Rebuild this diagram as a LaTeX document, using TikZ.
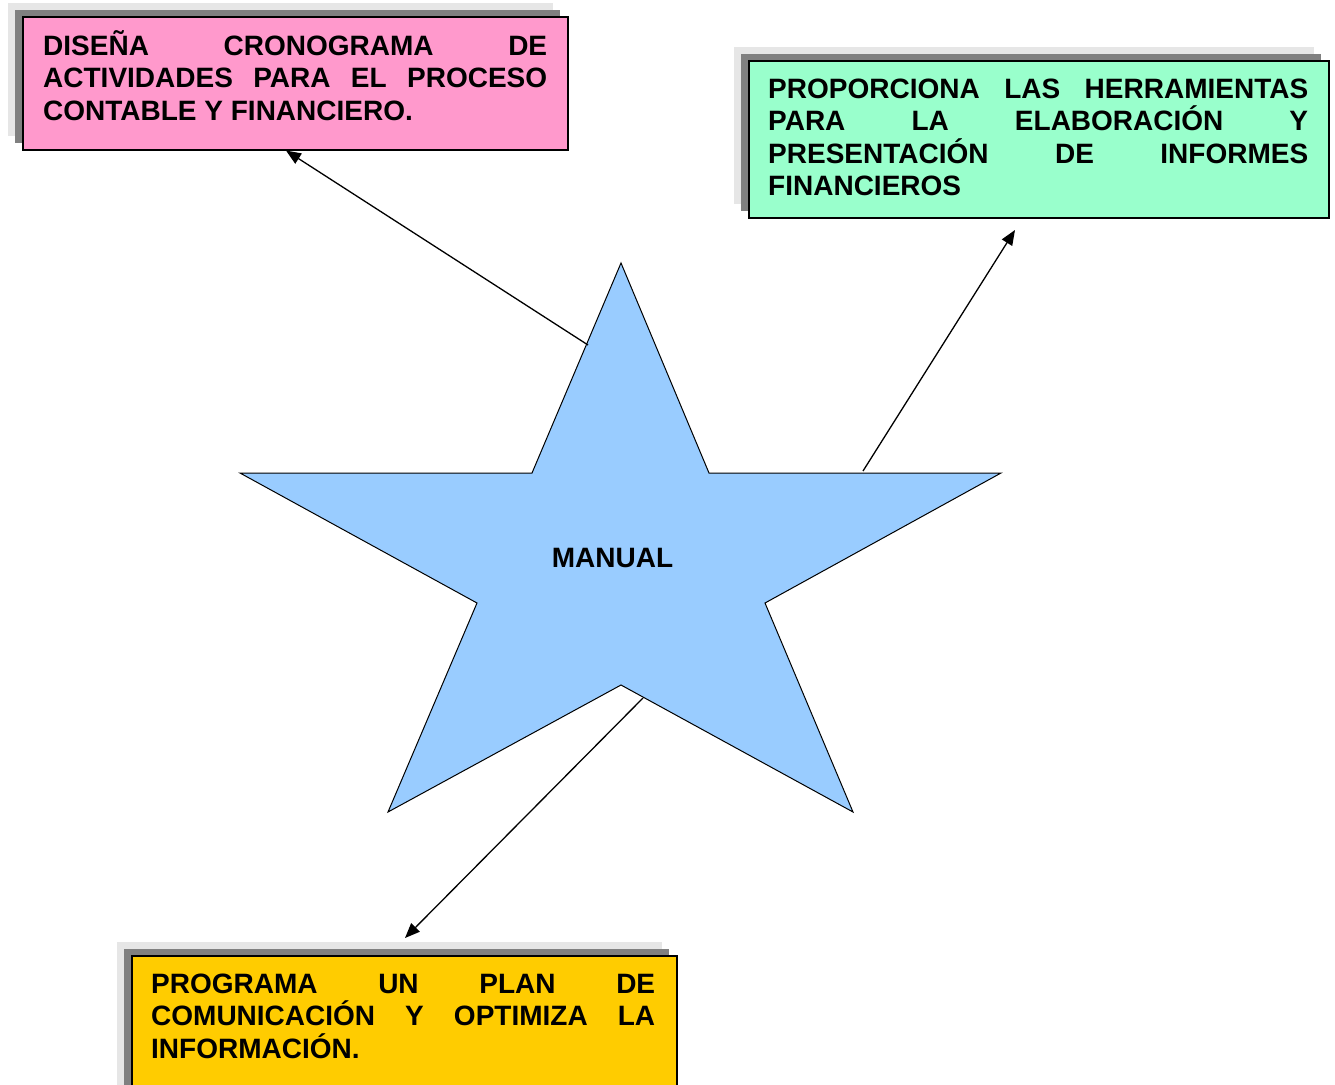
\documentclass[tikz,border=0pt]{standalone}
\usepackage{fontspec}
\setmainfont{Liberation Sans}
\usetikzlibrary{arrows.meta,shadows,calc}

\definecolor{pinkfill}{HTML}{FF99CC}
\definecolor{greenfill}{HTML}{99FFCC}
\definecolor{yellowfill}{HTML}{FFCC00}
\definecolor{starfill}{HTML}{99CCFF}
\definecolor{shadowdark}{HTML}{808080}
\definecolor{shadowlight}{HTML}{E6E6E6}

\newcommand{\boxfont}{\fontsize{28}{32.5}\selectfont\bfseries}
\newcommand{\jline}[1]{\hbox to\hsize{#1}}

\tikzset{
  infobox/.style={draw=black, line width=1.5pt, anchor=north west, inner sep=0pt,
    general shadow={fill=shadowlight, shadow xshift=-15pt, shadow yshift=14pt},
    general shadow={fill=shadowdark, shadow xshift=-8pt, shadow yshift=7pt}},
  boxtext/.style={anchor=base west, inner sep=0pt, font=\boxfont},
  starshape/.style={draw=black, line width=1pt, fill=starfill},
  link/.style={draw=black, line width=1.3pt, -{Triangle[length=15pt,width=12pt]}}
}

\begin{document}
\begin{tikzpicture}[x=1pt,y=-1pt]
\useasboundingbox (0,0) rectangle (1335,1084);

% the star
\draw[starshape] (621,263) -- (709,473) -- (1001,473) -- (765,603) -- (853,812)
  -- (621,685) -- (388,812) -- (477,603) -- (240,473) -- (532,473) -- cycle;
\node[anchor=base, inner sep=0pt, font=\boxfont] (manual) at (612.5,567) {MANUAL};

% boxes
\node[infobox, fill=pinkfill, minimum width=545pt, minimum height=133pt] (pink) at (22,16) {};
\node[boxtext] (pinktext) at (43,55) {\parbox[t]{504pt}{\boxfont
  \jline{DISEÑA\hfill CRONOGRAMA\hfill DE}
  \jline{ACTIVIDADES\hfill PARA\hfill EL\hfill PROCESO}
  \jline{CONTABLE Y FINANCIERO.\hfill}}};

\node[infobox, fill=greenfill, minimum width=580pt, minimum height=157pt] (green) at (748,60) {};
\node[boxtext] (greentext) at (768,98) {\parbox[t]{540pt}{\boxfont
  \jline{PROPORCIONA\hfill LAS\hfill HERRAMIENTAS}
  \jline{PARA\hfill LA\hfill ELABORACIÓN\hfill Y}
  \jline{PRESENTACIÓN\hfill DE\hfill INFORMES}
  \jline{FINANCIEROS\hfill}}};

\node[infobox, fill=yellowfill, minimum width=545pt, minimum height=150pt] (yellow) at (131,955) {};
\node[boxtext] (yellowtext) at (151,993) {\parbox[t]{504pt}{\boxfont
  \jline{PROGRAMA\hfill UN\hfill PLAN\hfill DE}
  \jline{COMUNICACIÓN\hfill Y\hfill OPTIMIZA\hfill LA}
  \jline{INFORMACIÓN.\hfill}}};

% connector ends
\coordinate (s1) at (588,345);
\coordinate (s2) at (863,471);
\coordinate (s3) at (643,698);
\coordinate (t2) at (1015,230);
\coordinate (t3) at (405,938);

\draw[link] (s1) -- ($(pink.south west)!0.483!(pink.south east)$);
\draw[link] (s2) -- (t2);
\draw[link] (s3) -- (t3);
\end{tikzpicture}
\end{document}
